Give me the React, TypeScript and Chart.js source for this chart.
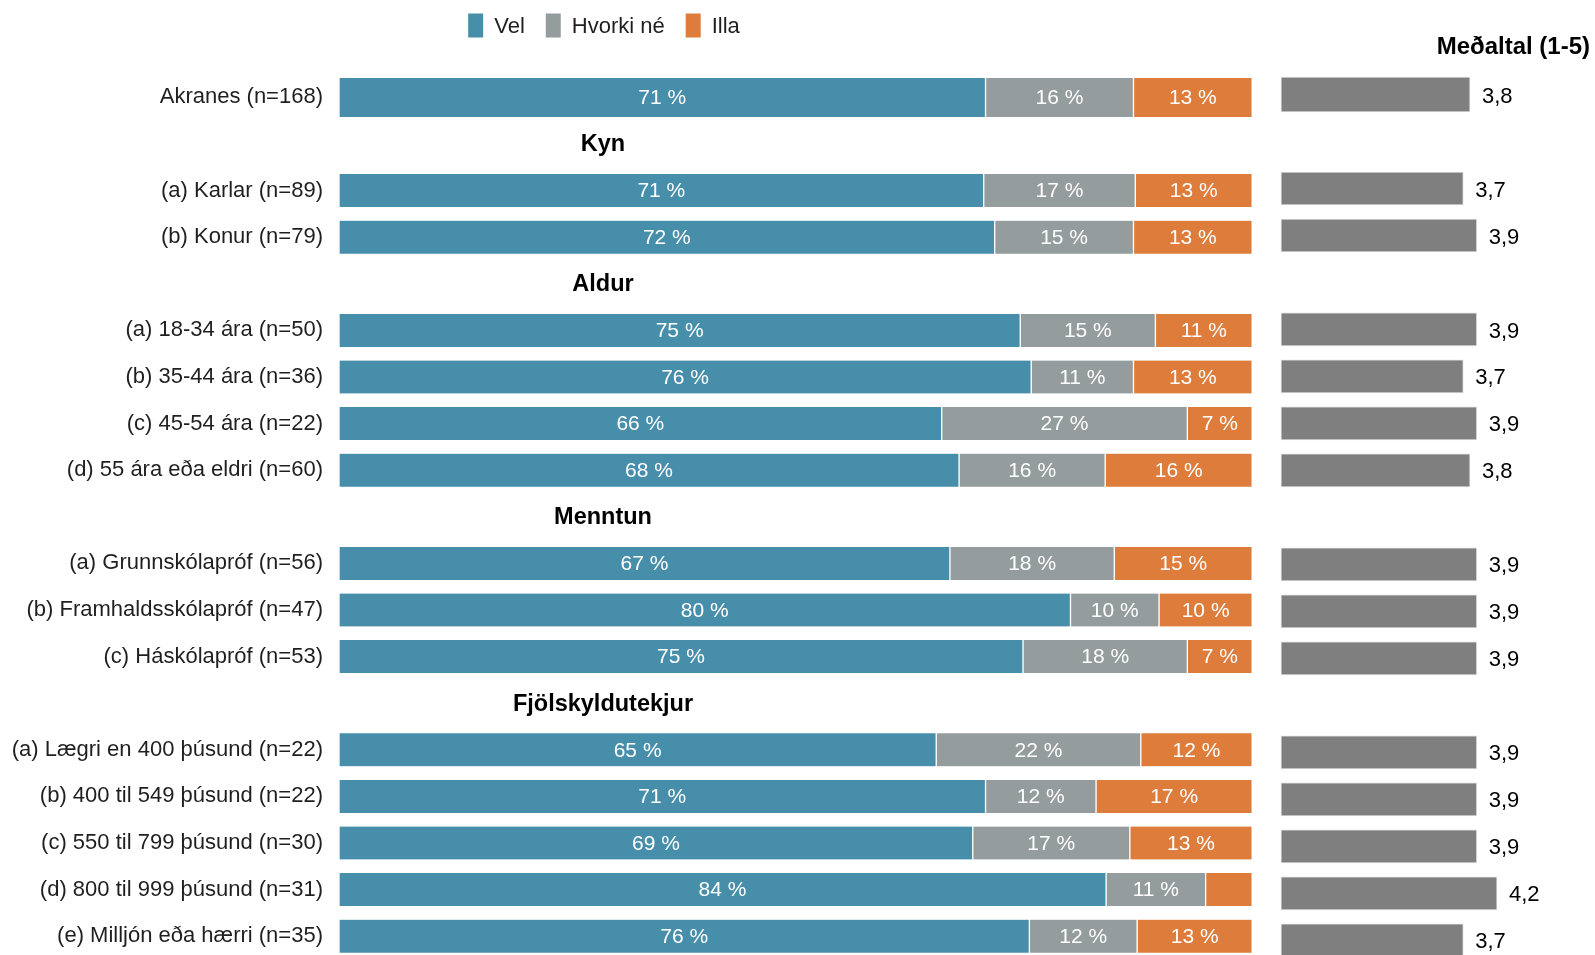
import React, { useEffect, useRef } from "react";
import { Chart, registerables } from "chart.js";

Chart.register(...registerables);

// ---------- Data ----------
const rowLabels = [
  "Akranes (n=168)",
  "Kyn",
  "(a) Karlar (n=89)",
  "(b) Konur (n=79)",
  "Aldur",
  "(a) 18-34 ára (n=50)",
  "(b) 35-44 ára (n=36)",
  "(c) 45-54 ára (n=22)",
  "(d) 55 ára eða eldri (n=60)",
  "Menntun",
  "(a) Grunnskólapróf (n=56)",
  "(b) Framhaldsskólapróf (n=47)",
  "(c) Háskólapróf (n=53)",
  "Fjölskyldutekjur",
  "(a) Lægri en 400 þúsund (n=22)",
  "(b) 400 til 549 þúsund (n=22)",
  "(c) 550 til 799 þúsund (n=30)",
  "(d) 800 til 999 þúsund (n=31)",
  "(e) Milljón eða hærri (n=35)",
];
const groupHeaders = ["Kyn", "Aldur", "Menntun", "Fjölskyldutekjur"];
const seriesNames = ["Vel", "Hvorki né", "Illa"];
const velValues = [70.8, null, 70.6, 71.8, null, 74.6, 75.8, 66.0, 67.9, null, 66.9, 80.1, 74.9, null, 65.4, 70.8, 69.4, 84.0, 75.6];
const hvorkiValues = [16.2, null, 16.6, 15.2, null, 14.8, 11.2, 26.9, 16.0, null, 18.0, 9.7, 18.0, null, 22.4, 12.1, 17.2, 10.9, 11.8];
const illaValues = [13.0, null, 12.8, 13.0, null, 10.6, 13.0, 7.1, 16.1, null, 15.1, 10.2, 7.1, null, 12.2, 17.1, 13.4, 5.1, 12.6];
const meanValues = [3.8, null, 3.7, 3.9, null, 3.9, 3.7, 3.9, 3.8, null, 3.9, 3.9, 3.9, null, 3.9, 3.9, 3.9, 4.2, 3.7];
const meanTitle = "Meðaltal (1-5)";
const summaryIndex = 0; // the "Akranes" total row is drawn a bit thicker

// ---------- Styles ----------
const FONT = "'Liberation Sans', Arial, Helvetica, sans-serif";
const COLORS = ["#478EAA", "#959C9D", "#DD7C3B"];
const MEAN_COLOR = "#7F7F7F";
const TEXT_COLOR = "#1f1f1f";
const LEFT_W = 1262;
const RIGHT_W = 1595 - LEFT_W;
const H = 955;
const PAD_TOP = 97.4;
const PAD_BOTTOM = 18.8;
const R_PAD_TOP = 94.5;
const R_PAD_BOTTOM = 14.7;
const HEADER_X = 603;
const LEGEND_CX = 604;
const LEGEND_Y = 25.5;

const isHeader = (i: number) => groupHeaders.includes(rowLabels[i]);
const onlyRow = (arr: (number | null)[], idx: number) => arr.map((v, i) => (i === idx ? v : null));
const exceptRow = (arr: (number | null)[], idx: number) => arr.map((v, i) => (i === idx ? null : v));

const leftPlugin = {
  id: "leftDecor",
  afterDatasetsDraw(chart: any) {
    const ctx = chart.ctx;
    ctx.save();
    // percentage labels
    ctx.font = `21px ${FONT}`;
    ctx.fillStyle = "#ffffff";
    ctx.textAlign = "center";
    ctx.textBaseline = "middle";
    chart.data.datasets.forEach((ds: any, di: number) => {
      const meta = chart.getDatasetMeta(di);
      meta.data.forEach((el: any, i: number) => {
        const v = ds.data[i];
        if (v == null || v < 6) return;
        const cx = (el.x + el.base) / 2;
        ctx.fillText(`${Math.round(v)} %`, cx, el.y + 1);
      });
    });
    // group headers
    ctx.font = `bold 23.5px ${FONT}`;
    ctx.fillStyle = "#000000";
    rowLabels.forEach((lab, i) => {
      if (!isHeader(i)) return;
      const y = chart.scales.y.getPixelForValue(i);
      ctx.fillText(lab, HEADER_X, y + 1);
    });
    // legend
    ctx.font = `22px ${FONT}`;
    ctx.textAlign = "left";
    const boxW = 15, boxH = 24, gap = 11, itemGap = 21;
    const widths = seriesNames.map((n) => ctx.measureText(n).width);
    const total = widths.reduce((a, w) => a + boxW + gap + w, 0) + itemGap * (seriesNames.length - 1);
    let x = LEGEND_CX - total / 2;
    seriesNames.forEach((n, k) => {
      ctx.fillStyle = COLORS[k];
      ctx.fillRect(x, LEGEND_Y - boxH / 2, boxW, boxH);
      ctx.fillStyle = TEXT_COLOR;
      ctx.fillText(n, x + boxW + gap, LEGEND_Y + 1);
      x += boxW + gap + widths[k] + itemGap;
    });
    ctx.restore();
  },
};

const rightPlugin = {
  id: "rightDecor",
  afterDatasetsDraw(chart: any) {
    const ctx = chart.ctx;
    ctx.save();
    ctx.font = `22px ${FONT}`;
    ctx.fillStyle = "#000000";
    ctx.textAlign = "left";
    ctx.textBaseline = "middle";
    chart.data.datasets.forEach((ds: any, di: number) => {
      const meta = chart.getDatasetMeta(di);
      meta.data.forEach((el: any, i: number) => {
        const v = ds.data[i];
        if (v == null) return;
        ctx.fillText(v.toFixed(1).replace(".", ","), el.x + 12, el.y + 2);
      });
    });
    ctx.font = `bold 24px ${FONT}`;
    ctx.textAlign = "right";
    ctx.fillText(meanTitle, RIGHT_W - 5, 47);
    ctx.restore();
  },
};

export default function App() {
  const leftRef = useRef<HTMLCanvasElement | null>(null);
  const rightRef = useRef<HTMLCanvasElement | null>(null);

  useEffect(() => {
    const seriesData = [velValues, hvorkiValues, illaValues];
    const mkBar = (name: string, k: number, data: (number | null)[], thickness: number) => ({
      label: name,
      data,
      stack: "s",
      backgroundColor: COLORS[k],
      borderColor: "#ffffff",
      borderWidth: { left: 1, right: 1, top: 0, bottom: 0 },
      borderSkipped: false,
      barThickness: thickness,
      clip: false,
    });
    const leftDatasets = [
      ...seriesNames.map((name, k) => mkBar(name, k, exceptRow(seriesData[k], summaryIndex), 33)),
      ...seriesNames.map((name, k) => mkBar(name, k, onlyRow(seriesData[k], summaryIndex), 39)),
    ];

    const left = new Chart(leftRef.current as HTMLCanvasElement, {
      type: "bar",
      data: { labels: rowLabels, datasets: leftDatasets as any },
      options: {
        indexAxis: "y",
        responsive: false,
        animation: false,
        layout: { autoPadding: false, padding: { top: PAD_TOP, bottom: PAD_BOTTOM, left: 0, right: LEFT_W - 1252.2 } } as any,
        scales: {
          x: { stacked: true, min: 0, max: 100, display: false },
          y: {
            stacked: true,
            offset: false,
            grid: { display: false, drawTicks: false },
            border: { display: false },
            ticks: {
              autoSkip: false,
              padding: 16,
              color: TEXT_COLOR,
              font: { family: FONT, size: 22 },
              callback: (_v: any, i: number) => (isHeader(i) ? "" : rowLabels[i]),
            },
            afterFit: (s: any) => {
              s.width = 339;
              s.paddingTop = 0;
              s.paddingBottom = 0;
            },
          } as any,
        },
        plugins: { legend: { display: false }, tooltip: { enabled: false } },
      },
      plugins: [leftPlugin],
    });

    const mkMean = (data: (number | null)[], thickness: number) => ({
      label: meanTitle,
      data,
      base: 1,
      grouped: false,
      backgroundColor: MEAN_COLOR,
      borderColor: "#d9d9d9",
      borderWidth: 1,
      borderSkipped: false,
      barThickness: thickness,
      clip: false,
    });

    const right = new Chart(rightRef.current as HTMLCanvasElement, {
      type: "bar",
      data: {
        labels: rowLabels,
        datasets: [mkMean(exceptRow(meanValues, summaryIndex), 33), mkMean(onlyRow(meanValues, summaryIndex), 35)] as any,
      },
      options: {
        indexAxis: "y",
        responsive: false,
        animation: false,
        layout: { autoPadding: false, padding: { top: R_PAD_TOP, bottom: R_PAD_BOTTOM, left: 19, right: 44 } } as any,
        scales: {
          x: { min: 1, max: 5, display: false },
          y: { display: false, offset: false } as any,
        },
        plugins: { legend: { display: false }, tooltip: { enabled: false } },
      },
      plugins: [rightPlugin],
    });

    return () => {
      left.destroy();
      right.destroy();
    };
  }, []);

  return (
    <div
      style={{
        position: "absolute",
        left: 0,
        top: 0,
        width: 1595,
        height: H,
        overflow: "hidden",
        background: "#ffffff",
      }}
    >
      <canvas ref={leftRef} width={LEFT_W} height={H} style={{ position: "absolute", left: 0, top: 0 }} />
      <canvas ref={rightRef} width={RIGHT_W} height={H} style={{ position: "absolute", left: LEFT_W, top: 0 }} />
    </div>
  );
}
